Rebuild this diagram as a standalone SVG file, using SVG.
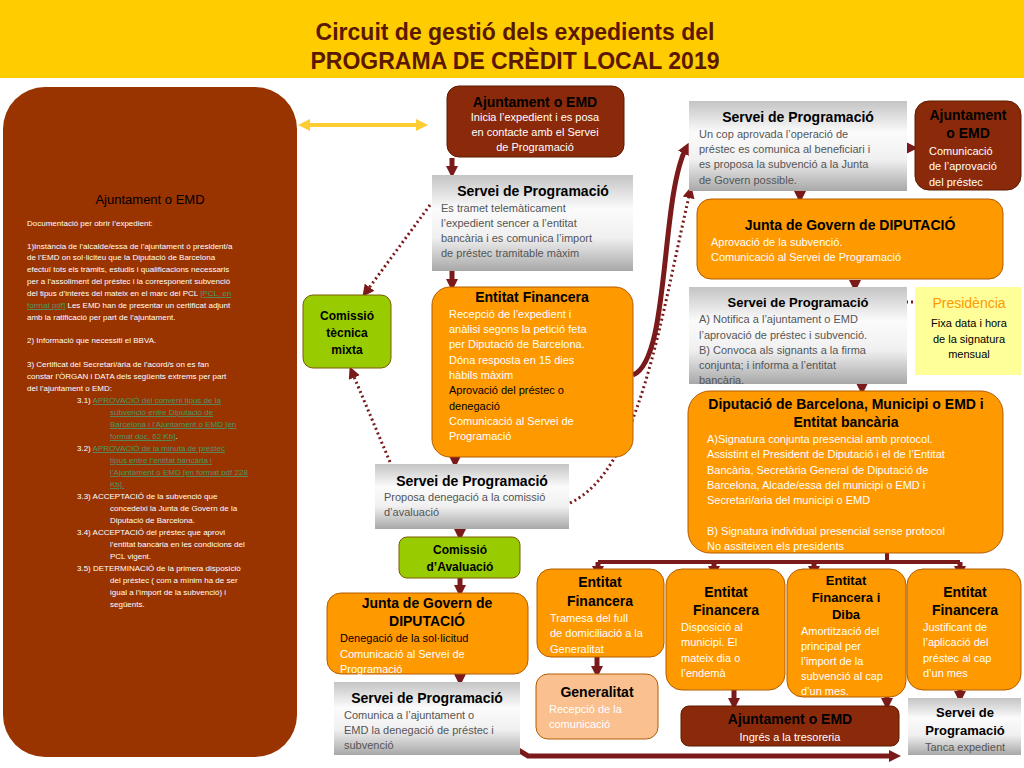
<svg xmlns="http://www.w3.org/2000/svg" width="1024" height="768" viewBox="0 0 1024 768">
<style>
text{font-family:"Liberation Sans",Arial,sans-serif}
.h{font-weight:bold;font-size:14px;fill:#000;text-anchor:middle}
.t{font-size:11px;fill:#fff}
.g{font-size:11px;fill:#555}
.k{font-size:11px;fill:#000}
.s{font-size:8px;fill:#fff}
.l{font-size:8px;fill:#4a9a6a;text-decoration:underline}
.or{fill:#FF9900;stroke:#B35C00;stroke-width:1}
.br{fill:#8B2A0A;stroke:#5a1a00;stroke-width:1}
.gr{fill:url(#gg)}
.gn{fill:#99CC00;stroke:#7a5a00;stroke-width:1}
.a{stroke:#7B1A1A;stroke-width:5;fill:none;marker-end:url(#ah)}
.d{stroke:#7B1A1A;stroke-width:3;stroke-dasharray:2 3;fill:none;marker-end:url(#ah2)}
</style>
<defs>
<linearGradient id="gg" x1="0" y1="0" x2="0" y2="1"><stop offset="0" stop-color="#c4c4c4"/><stop offset="0.35" stop-color="#fbfbfb"/><stop offset="0.65" stop-color="#f0f0f0"/><stop offset="1" stop-color="#a8a8a8"/></linearGradient>
<marker id="ah" viewBox="0 0 10 10" refX="5" refY="5" markerWidth="2.4" markerHeight="2.4" orient="auto"><path d="M0,0L10,5L0,10z" fill="#7B1A1A"/></marker>
<marker id="ah2" viewBox="0 0 10 10" refX="5" refY="5" markerWidth="4" markerHeight="4" orient="auto"><path d="M0,0L10,5L0,10z" fill="#7B1A1A"/></marker>
<marker id="ya" viewBox="0 0 10 10" refX="5" refY="5" markerWidth="3" markerHeight="3" orient="auto-start-reverse"><path d="M0,0L10,5L0,10z" fill="#FFCC33"/></marker>
</defs>
<rect width="1024" height="768" fill="#fff"/>
<rect x="0" y="0" width="1024" height="78" fill="#FFCC00"/>
<text x="515" y="40" text-anchor="middle" style="font-size:23px;font-weight:bold;fill:#5a1800">Circuit de gestió dels expedients del</text>
<text x="515" y="69" text-anchor="middle" style="font-size:23px;font-weight:bold;fill:#5a1800">PROGRAMA DE CRÈDIT LOCAL 2019</text>

<g id="connectors">
<line x1="304" y1="125" x2="422" y2="125" stroke="#FFCC33" stroke-width="4" marker-start="url(#ya)" marker-end="url(#ya)"/>
<line class="a" x1="452" y1="158" x2="452" y2="172"/>
<line class="a" x1="452" y1="271" x2="452" y2="285"/>
<line class="a" x1="455" y1="448" x2="455" y2="462"/>
<line class="a" x1="460" y1="529" x2="460" y2="535"/>
<line class="a" x1="460" y1="578" x2="460" y2="591"/>
<line class="a" x1="460" y1="666" x2="460" y2="680"/>
<line class="a" x1="800" y1="191" x2="800" y2="197"/>
<line class="a" x1="855" y1="280" x2="855" y2="286"/>
<line class="a" x1="862" y1="384" x2="862" y2="389"/>
<line class="a" x1="906" y1="148" x2="912" y2="148"/>
<path class="a" d="M633 375 C670 360 660 200 686 148"/>
<path class="d" d="M430 205 L366 292"/>
<path class="d" d="M390 462 L352 372"/>
<path class="d" d="M570 503 C640 470 660 320 690 192"/>
<line class="d" x1="913" y1="302" x2="877" y2="302"/>
<path d="M887 553 V560 M598 562 H960" stroke="#7B1A1A" stroke-width="4" fill="none"/>
<line class="a" x1="598" y1="562" x2="598" y2="572"/>
<line class="a" x1="714" y1="562" x2="714" y2="572"/>
<line class="a" x1="814" y1="562" x2="814" y2="572"/>
<line class="a" x1="960" y1="562" x2="960" y2="572"/>
<line class="a" x1="597" y1="657" x2="597" y2="672"/>
<line class="a" x1="734" y1="690" x2="734" y2="704"/>
<line class="a" x1="887" y1="689" x2="887" y2="704"/>
<line class="a" x1="960" y1="690" x2="960" y2="697"/>
<path class="a" d="M515 748 L528 756 H895"/>
</g>

<g id="left">
<rect x="3" y="87" width="294" height="670" rx="42" fill="#993300"/>
<text x="150" y="204" class="h" style="font-weight:normal;font-size:13px">Ajuntament o EMD</text>
<text class="s" x="27" y="226">Documentació per obrir l’expedient:</text>
<text class="s" x="27" y="249">1)Instància de l’alcalde/essa de l’ajuntament ó president/a</text>
<text class="s" x="27" y="260">de l’EMD on sol·liciteu que la Diputació de Barcelona</text>
<text class="s" x="27" y="272">efectuï tots els tràmits, estudis i qualificacions necessaris</text>
<text class="s" x="27" y="284">per a l’assoliment del préstec i la corresponent subvenció</text>
<text class="s" x="27" y="296">del tipus d’interès del mateix en el marc del PCL <tspan class="l">[PCL, en</tspan></text>
<text class="s" x="27" y="308"><tspan class="l">format pdf]</tspan> Les EMD han de presentar un certificat adjunt</text>
<text class="s" x="27" y="320">amb la ratificació per part de l’ajuntament.</text>
<text class="s" x="27" y="343">2) Informació que necessiti el BBVA.</text>
<text class="s" x="27" y="367">3) Certificat del Secretari/ària de l’acord/s on es fan</text>
<text class="s" x="27" y="379">constar l’ÒRGAN i DATA dels següents extrems per part</text>
<text class="s" x="27" y="391">del l’ajuntament o EMD:</text>
<text class="s" x="77" y="403">3.1) <tspan class="l">APROVACIÓ del conveni tipus de la</tspan></text>
<text class="l" x="110" y="415">subvenció entre Diputació de</text>
<text class="l" x="110" y="427">Barcelona i l’Ajuntament o EMD [en</text>
<text class="s" x="110" y="439"><tspan class="l">format doc, 62 Kb]</tspan>.</text>
<text class="s" x="77" y="451">3.2) <tspan class="l">APROVACIÓ de la minuta de préstec</tspan></text>
<text class="l" x="110" y="463">tipus entre l’entitat bancària i</text>
<text class="l" x="110" y="475">l’Ajuntament o EMD [en format pdf 228</text>
<text class="l" x="110" y="487">Kb].</text>
<text class="s" x="77" y="499">3.3) ACCEPTACIÓ  de la subvenció que</text>
<text class="s" x="110" y="511">concedeixi la Junta de Govern de la</text>
<text class="s" x="110" y="523">Diputació de Barcelona.</text>
<text class="s" x="77" y="535">3.4) ACCEPTACIÓ del préstec que aprovi</text>
<text class="s" x="110" y="547">l’entitat bancària en les condicions del</text>
<text class="s" x="110" y="559">PCL vigent.</text>
<text class="s" x="77" y="571">3.5) DETERMINACIÓ de la primera disposició</text>
<text class="s" x="110" y="583">del préstec ( com a mínim ha de ser</text>
<text class="s" x="110" y="595">igual a l’import de la subvenció) i</text>
<text class="s" x="110" y="607">següents.</text>
</g>

<g id="aj1"><rect class="br" x="447" y="86" width="177" height="71" rx="12"/>
<text class="h" x="535" y="107">Ajuntament o EMD</text>
<text class="t" x="535" y="121" text-anchor="middle">Inicia l’expedient i es posa</text>
<text class="t" x="535" y="136" text-anchor="middle">en contacte amb el Servei</text>
<text class="t" x="535" y="151" text-anchor="middle">de Programació</text></g>

<g id="sp1"><rect class="gr" x="432" y="175" width="201" height="96"/>
<text class="h" x="533" y="196">Servei de Programació</text>
<text class="g" x="441" y="212">Es tramet telemàticament</text>
<text class="g" x="441" y="227">l’expedient sencer a l’entitat</text>
<text class="g" x="441" y="242">bancària i es comunica l’import</text>
<text class="g" x="441" y="257">de préstec tramitable màxim</text></g>

<g id="ef1"><rect class="or" x="432" y="287" width="201" height="170" rx="18"/>
<text class="h" x="532" y="302">Entitat Financera</text>
<text class="t" x="449" y="318">Recepció de l’expedient i</text>
<text class="t" x="449" y="333">anàlisi segons la petició feta</text>
<text class="t" x="449" y="348">per Diputació de Barcelona.</text>
<text class="t" x="449" y="364">Dóna resposta en 15 dies</text>
<text class="t" x="449" y="379">hàbils màxim</text>
<text class="k" x="449" y="394">Aprovació del préstec o</text>
<text class="k" x="449" y="410">denegació</text>
<text class="t" x="449" y="425">Comunicació al Servei de</text>
<text class="t" x="449" y="440">Programació</text></g>

<g id="ctm"><rect class="gn" x="303" y="295" width="88" height="73" rx="10"/>
<text class="h" x="347" y="320" style="font-size:12px">Comissió</text>
<text class="h" x="347" y="337" style="font-size:12px">tècnica</text>
<text class="h" x="347" y="354" style="font-size:12px">mixta</text></g>

<g id="sp2"><rect class="gr" x="375" y="464" width="194" height="65"/>
<text class="h" x="472" y="486">Servei de Programació</text>
<text class="g" x="384" y="501">Proposa denegació a la comissió</text>
<text class="g" x="384" y="516">d’avaluació</text></g>

<g id="cav"><rect class="gn" x="399" y="537" width="121" height="41" rx="8"/>
<text class="h" x="460" y="554" style="font-size:12px">Comissió</text>
<text class="h" x="460" y="571" style="font-size:12px">d’Avaluació</text></g>

<g id="jg1"><rect class="or" x="327" y="593" width="201" height="81" rx="14"/>
<text class="h" x="427" y="608">Junta de Govern de</text>
<text class="h" x="427" y="626">DIPUTACIÓ</text>
<text class="k" x="340" y="642">Denegació de la sol·licitud</text>
<text class="t" x="340" y="658">Comunicació al Servei de</text>
<text class="t" x="340" y="673">Programació</text></g>

<g id="sp3"><rect class="gr" x="334" y="682" width="186" height="73"/>
<text class="h" x="427" y="703">Servei de Programació</text>
<text class="g" x="344" y="719">Comunica a l’ajuntament o</text>
<text class="g" x="344" y="734">EMD la denegació de préstec i</text>
<text class="g" x="344" y="749">subvenció</text></g>

<g id="sp4"><rect class="gr" x="689" y="101" width="218" height="90"/>
<text class="h" x="798" y="122">Servei de Programació</text>
<text class="g" x="699" y="138">Un cop aprovada l’operació de</text>
<text class="g" x="699" y="153">préstec es comunica al beneficiari i</text>
<text class="g" x="699" y="168">es proposa la subvenció a la Junta</text>
<text class="g" x="699" y="184">de Govern  possible.</text></g>

<g id="aj2"><rect class="br" x="915" y="101" width="106" height="89" rx="14"/>
<text class="h" x="968" y="120">Ajuntament</text>
<text class="h" x="968" y="138">o EMD</text>
<text class="t" x="929" y="155">Comunicació</text>
<text class="t" x="929" y="170">de l’aprovació</text>
<text class="t" x="929" y="186">del préstec</text></g>

<g id="jg2"><rect class="or" x="697" y="199" width="306" height="80" rx="14"/>
<text class="h" x="850" y="230">Junta de Govern de DIPUTACIÓ</text>
<text class="t" x="711" y="246">Aprovació de la subvenció.</text>
<text class="t" x="711" y="261">Comunicació al Servei de Programació</text></g>

<g id="sp5"><rect class="gr" x="689" y="287" width="218" height="97"/>
<text class="h" x="798" y="307" style="font-size:13px">Servei de Programació</text>
<text class="g" x="699" y="323">A) Notifica a l’ajuntament o EMD</text>
<text class="g" x="699" y="339">l’aprovació de préstec i subvenció.</text>
<text class="g" x="699" y="354">B) Convoca als signants a la firma</text>
<text class="g" x="699" y="369">conjunta;  i informa a l’entitat</text>
<text class="g" x="699" y="384">bancària.</text></g>

<g id="pres"><rect x="915" y="287" width="106" height="88" fill="#FFFF99"/>
<text x="969" y="308" text-anchor="middle" style="font-size:14px;fill:#FF9900">Presidència</text>
<text class="k" x="969" y="327" text-anchor="middle">Fixa data i hora</text>
<text class="k" x="969" y="343" text-anchor="middle">de la signatura</text>
<text class="k" x="969" y="358" text-anchor="middle">mensual</text></g>

<g id="dip"><rect class="or" x="688" y="391" width="315" height="162" rx="22"/>
<text class="h" x="846" y="409">Diputació de Barcelona, Municipi o EMD i</text>
<text class="h" x="846" y="427">Entitat bancària</text>
<text class="t" x="707" y="443">A)Signatura conjunta presencial amb protocol.</text>
<text class="t" x="707" y="458">Assistint el President de Diputació i el de l’Entitat</text>
<text class="t" x="707" y="474">Bancària, Secretària General de Diputació de</text>
<text class="t" x="707" y="489">Barcelona, Alcade/essa del municipi o EMD i</text>
<text class="t" x="707" y="504">Secretari/aria del municipi o EMD</text>
<text class="t" x="707" y="535">B) Signatura individual presencial sense protocol</text>
<text class="t" x="707" y="550">No assiteixen els presidents</text></g>

<g id="ef2"><rect class="or" x="537" y="569" width="127" height="88" rx="14"/>
<text class="h" x="600" y="587">Entitat</text>
<text class="h" x="600" y="606">Financera</text>
<text class="t" x="550" y="622">Tramesa del full</text>
<text class="t" x="550" y="637">de domiciliació a la</text>
<text class="t" x="550" y="653">Generalitat</text></g>

<g id="gen"><rect x="536" y="674" width="122" height="65" rx="12" fill="#FAC08F" stroke="#B35C00"/>
<text class="h" x="597" y="697">Generalitat</text>
<text class="t" x="549" y="713">Recepció de la</text>
<text class="t" x="549" y="728">comunicació</text></g>

<g id="ef3"><rect class="or" x="666" y="569" width="119" height="121" rx="16"/>
<text class="h" x="726" y="597">Entitat</text>
<text class="h" x="726" y="615">Financera</text>
<text class="t" x="681" y="631">Disposició al</text>
<text class="t" x="681" y="646">municipi. El</text>
<text class="t" x="681" y="662">mateix dia o</text>
<text class="t" x="681" y="677">l’endemà</text></g>

<g id="ef4"><rect class="or" x="787" y="569" width="119" height="128" rx="16"/>
<text class="h" x="846" y="585" style="font-size:13px">Entitat</text>
<text class="h" x="846" y="602" style="font-size:13px">Financera i</text>
<text class="h" x="846" y="619" style="font-size:13px">Diba</text>
<text class="t" x="801" y="635">Amortització del</text>
<text class="t" x="801" y="650">principal per</text>
<text class="t" x="801" y="665">l’import de la</text>
<text class="t" x="801" y="680">subvenció al cap</text>
<text class="t" x="801" y="695">d’un mes.</text></g>

<g id="ef5"><rect class="or" x="907" y="569" width="114" height="121" rx="16"/>
<text class="h" x="965" y="597">Entitat</text>
<text class="h" x="965" y="615">Financera</text>
<text class="t" x="923" y="631">Justificant de</text>
<text class="t" x="923" y="646">l’aplicació del</text>
<text class="t" x="923" y="662">préstec al cap</text>
<text class="t" x="923" y="677">d’un mes</text></g>

<g id="aj3"><rect class="br" x="681" y="706" width="218" height="40" rx="8"/>
<text class="h" x="790" y="724">Ajuntament o EMD</text>
<text class="t" x="790" y="741" text-anchor="middle">Ingrés a la tresoreria</text></g>

<g id="sp6"><rect class="gr" x="908" y="698" width="113" height="57"/>
<text class="h" x="965" y="717" style="font-size:13px">Servei de</text>
<text class="h" x="965" y="735" style="font-size:13px">Programació</text>
<text class="g" x="965" y="751" text-anchor="middle">Tanca expedient</text></g>
</svg>
